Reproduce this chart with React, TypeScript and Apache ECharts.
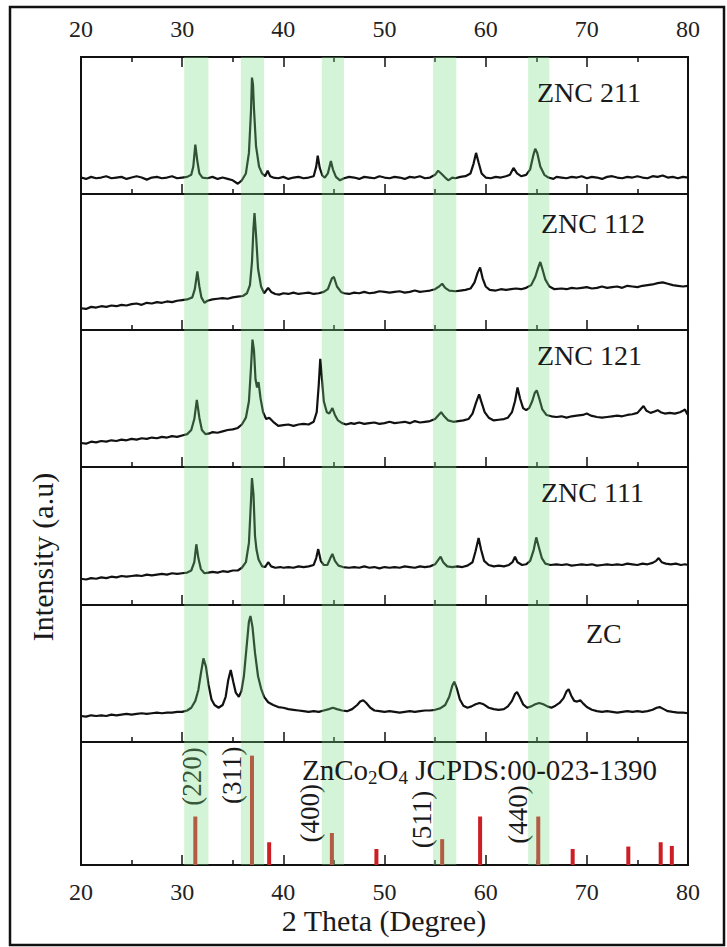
import React, { useEffect, useRef } from "react";
import * as echarts from "echarts";

const FONT = "'Liberation Serif', 'Times New Roman', serif";

const sampleNames = ["ZNC 211", "ZNC 112", "ZNC 121", "ZNC 111", "ZC"];

const znc211: number[][] = [[20,12],[20.5,11],[21,12.5],[21.5,11.5],[22,12],[22.5,13],[23,11.5],[23.5,12],[24,12.5],[24.5,11],[25,12],[25.5,13],[26,12],[26.5,10.5],[27,12],[27.5,12.5],[28,11.5],[28.5,12],[29,13],[29.5,11.5],[30,12],[30.5,12.5],[30.9,14],[31.1,20],[31.3,36],[31.5,24],[31.7,15],[32,12],[32.5,11.5],[33,12.5],[33.5,11],[34,12],[34.5,11],[35,10],[35.5,7.5],[35.9,10],[36.3,15],[36.6,30],[36.8,60],[36.9,85],[37.0,80],[37.1,62],[37.3,35],[37.6,20],[37.9,15],[38.2,13],[38.45,17],[38.7,13],[39,12],[39.5,11.5],[40,12.5],[40.5,11],[41,12],[41.5,12.5],[42,11.5],[42.5,12],[43,13],[43.25,20],[43.4,28],[43.6,19],[43.85,13.5],[44.1,12],[44.4,15],[44.7,24],[44.9,18],[45.2,12.5],[45.6,10],[46,11.5],[46.5,12.5],[47,12],[47.5,11],[48,12.5],[48.5,12],[49,11.5],[49.5,13],[50,12],[50.5,11.5],[51,12.5],[51.5,12],[52,11],[52.5,12.5],[53,12],[53.5,13],[54,11.5],[54.5,12],[55,14],[55.3,17],[55.6,15],[56,12],[56.3,10],[56.7,12],[57,11.5],[57.5,12.5],[58,13],[58.5,15],[58.8,22],[59.05,30],[59.3,23],[59.6,15],[60,12],[60.5,11.5],[61,12.5],[61.5,12],[62,13],[62.4,14],[62.75,19],[63.1,15],[63.5,13],[64,14],[64.4,18],[64.7,28],[64.9,33],[65.1,30],[65.4,20],[65.8,14],[66.2,12],[66.7,11],[67,12.5],[67.5,12],[68,11.5],[68.5,12.5],[69,12],[69.5,13],[70,11.5],[70.5,12.5],[71,12],[71.5,11],[72,12.5],[72.5,13],[73,12],[73.5,11.5],[74,12.5],[74.5,12],[75,13],[75.5,12],[76,11.5],[76.5,13],[77,12.5],[77.5,13.5],[78,12],[78.5,12.5],[79,11.5],[79.5,12.5],[80,12]];

const znc112: number[][] = [[20,16],[20.5,15.5],[21,17],[21.5,16.5],[22,17.5],[22.5,17],[23,18],[23.5,17.5],[24,18.5],[24.5,18],[25,19],[25.5,19.5],[26,18.5],[26.5,20],[27,19.5],[27.5,20.5],[28,20],[28.5,21],[29,20.5],[29.5,21.5],[30,22],[30.5,22.5],[31,24],[31.25,30],[31.5,43],[31.7,32],[31.9,24],[32.2,20],[32.5,21.5],[33,22.5],[33.5,23],[34,23.5],[34.5,23],[35,24],[35.5,24.5],[36,25],[36.4,27],[36.7,33],[36.9,50],[37.05,75],[37.15,86],[37.3,70],[37.5,45],[37.8,32],[38.1,27],[38.5,31],[38.8,28],[39.2,26.5],[39.6,26],[40,27],[40.5,26.5],[41,27.5],[41.5,26.5],[42,27],[42.5,27.5],[43,26.5],[43.5,27],[44,28],[44.4,30],[44.8,38],[45.0,39],[45.3,32],[45.7,28],[46,27],[46.5,26.5],[47,27.5],[47.5,27],[48,28],[48.5,27],[49,27.5],[49.5,28.5],[50,28],[50.5,27.5],[51,28],[51.5,28.5],[52,27.5],[52.5,28],[53,29],[53.5,28],[54,28.5],[54.5,29],[55,30],[55.4,32],[55.7,34],[56,31],[56.4,29],[57,28.5],[57.5,29],[58,29.5],[58.5,30.5],[58.9,35],[59.2,42],[59.45,46],[59.7,38],[60,32],[60.4,29.5],[61,29],[61.5,30],[62,29.5],[62.5,30],[63,30.5],[63.5,30],[64,31],[64.5,33],[64.9,39],[65.2,46],[65.4,50],[65.6,45],[65.9,37],[66.3,32],[66.8,30],[67.5,30.5],[68,30],[68.5,31],[69,30.5],[69.5,31],[70,31.5],[70.5,30.5],[71,31],[71.5,32],[72,31],[72.5,31.5],[73,32],[73.5,31],[74,32.5],[74.5,32],[75,31.5],[75.5,32.5],[76,33],[76.5,33.5],[77,34.5],[77.5,35],[78,34],[78.5,33],[79,32.5],[79.5,32],[80,32.5]];

const znc121: number[][] = [[20,17.5],[20.5,17],[21,18.5],[21.5,18],[22,19],[22.5,18.5],[23,19.5],[23.5,19],[24,20],[24.5,19.5],[25,20.5],[25.5,20],[26,21],[26.5,20.5],[27,21.5],[27.5,21],[28,22],[28.5,21.5],[29,22.5],[29.5,22],[30,23],[30.5,24],[30.9,27],[31.2,35],[31.45,49],[31.7,36],[31.95,27],[32.3,24],[32.7,24.5],[33,25.5],[33.5,25],[34,26],[34.5,27],[35,27.5],[35.5,28.5],[35.9,31],[36.3,36],[36.6,48],[36.8,72],[36.95,93],[37.1,85],[37.25,64],[37.4,58],[37.55,62],[37.75,50],[38,40],[38.3,35],[38.6,36],[39,33],[39.5,30],[40,30.5],[40.5,31],[41,30],[41.5,31],[42,31.5],[42.5,31],[43,33],[43.3,40],[43.5,60],[43.65,79],[43.8,66],[44,48],[44.3,40],[44.55,39],[44.85,43],[45.1,38],[45.4,34],[45.8,32],[46.2,31],[46.7,32],[47,31.5],[47.5,32.5],[48,31.5],[48.5,32],[49,32.5],[49.5,31.5],[50,32],[50.5,33],[51,32],[51.5,32.5],[52,33],[52.5,32],[53,33.5],[53.5,32.5],[54,33],[54.5,33.5],[55,35],[55.35,38],[55.6,40],[55.9,37],[56.3,34],[56.8,33],[57.3,33.5],[57.8,34],[58.3,35],[58.7,39],[59.05,47],[59.35,53],[59.6,47],[59.9,40],[60.3,36],[60.8,34],[61.3,34.5],[61.8,35],[62.2,36],[62.6,40],[62.9,48],[63.15,58],[63.4,50],[63.7,43],[64.0,41.5],[64.3,43],[64.6,48],[64.85,54],[65.05,56],[65.3,50],[65.6,42],[66,38],[66.5,37],[67,36.5],[67.5,37],[68,36],[68.5,37],[69,37.5],[69.6,38],[70,39],[70.4,37.5],[71,36.5],[71.5,36],[72,36.5],[72.5,37],[73,37.5],[73.5,37],[74,38],[74.5,38.5],[75,39.5],[75.3,42],[75.6,44.5],[75.9,41],[76.3,39.5],[76.7,40.5],[77,41.5],[77.3,40],[77.7,39],[78.2,39.5],[78.7,39],[79.2,40],[79.5,41],[79.7,42],[79.9,39],[80,38]];

const znc111: number[][] = [[20,19],[20.5,18.5],[21,19.5],[21.5,19],[22,20],[22.5,19.5],[23,20.5],[23.5,20],[24,21],[24.5,20.5],[25,21],[25.5,21.5],[26,21],[26.5,22],[27,21.5],[27.5,22],[28,22.5],[28.5,22],[29,23],[29.5,22.5],[30,23],[30.5,23.5],[30.9,25],[31.2,31],[31.4,44],[31.6,34],[31.85,26],[32.2,23],[32.6,23.5],[33,24],[33.5,23.5],[34,24.5],[34.5,24],[35,25],[35.5,25],[35.9,27],[36.3,31],[36.6,45],[36.8,75],[36.9,92],[37.05,80],[37.2,50],[37.35,40],[37.55,33],[37.9,28],[38.2,27.5],[38.5,31],[38.8,28],[39.2,27],[39.7,27.5],[40,27],[40.5,27.5],[41,27],[41.5,28],[42,27.5],[42.5,28],[43,29],[43.25,34],[43.45,40.5],[43.7,32],[44,29],[44.35,29],[44.65,34],[44.85,37],[45.1,32],[45.45,28.5],[45.9,27.5],[46.5,27],[47,27.5],[47.5,27],[48,28],[48.5,27],[49,27.5],[49.5,26.5],[50,27.5],[50.5,27],[51,27.5],[51.5,27],[52,28],[52.5,27.5],[53,27],[53.5,28],[54,27.5],[54.5,28],[55,29.5],[55.35,33],[55.55,35],[55.8,31],[56.2,28],[56.7,27.5],[57.2,28],[57.7,27.5],[58.2,28.5],[58.7,31],[59.0,39],[59.3,48.5],[59.55,40],[59.85,32],[60.3,29],[60.8,28],[61.3,28.5],[61.8,28],[62.3,29],[62.65,31],[62.9,35],[63.15,31],[63.6,29],[64,29.5],[64.4,32],[64.75,40],[65.0,49],[65.25,42],[65.55,34],[65.9,30],[66.4,29],[67,29.5],[67.5,29],[68,29.5],[68.5,28.5],[69,29],[69.5,29.5],[70,29],[70.5,29.5],[71,28.5],[71.5,29],[72,29.5],[72.5,29],[73,29.5],[73.5,29],[74,30],[74.5,29.5],[75,29],[75.5,30],[76,29.5],[76.5,30.5],[76.85,32],[77.1,34],[77.4,31],[77.8,30],[78.3,29.5],[78.8,30],[79.3,29],[79.7,29.5],[80,29]];

const zc: number[][] = [[20,19],[20.5,18.5],[21,19.5],[21.5,19],[22,19.5],[22.5,19],[23,20],[23.5,19.5],[24,20],[24.5,20.5],[25,20],[25.5,20.5],[26,21],[26.5,20.5],[27,21],[27.5,21.5],[28,21],[28.5,21.5],[29,21.5],[29.5,22],[30,22],[30.5,23],[30.9,25],[31.3,30],[31.6,38],[31.85,50],[32.1,61],[32.35,55],[32.6,42],[32.9,31],[33.2,27],[33.6,25],[34,27],[34.3,33],[34.55,45],[34.8,52.5],[35.05,44],[35.3,36],[35.6,33],[35.85,37],[36.1,48],[36.35,68],[36.6,88],[36.75,92],[36.95,84],[37.2,65],[37.5,48],[37.8,39],[38.1,33],[38.5,29],[39,27],[39.5,25.5],[40,25],[40.5,24],[41,23.5],[41.5,23],[42,22.5],[42.5,22],[43,22.5],[43.5,22],[44,23],[44.5,24],[44.9,25],[45.3,24],[45.8,23],[46.3,22.5],[46.8,24],[47.3,27],[47.6,29.5],[47.9,30.5],[48.2,28.5],[48.6,25],[49,23],[49.5,22.5],[50,22],[50.5,22.5],[51,22],[51.5,21.5],[52,22],[52.5,22.5],[53,22],[53.5,22.5],[54,23],[54.5,23],[55,23.5],[55.5,24.5],[56,27],[56.4,33],[56.7,41],[56.9,44],[57.15,39],[57.45,31],[57.8,26.5],[58.2,25],[58.6,26],[59,27.5],[59.4,28.5],[59.8,27.5],[60.3,25],[60.8,24],[61.3,23.5],[61.8,24],[62.2,26],[62.6,30],[62.9,35],[63.1,36.5],[63.35,33],[63.7,27.5],[64.1,25],[64.5,26],[64.9,27.5],[65.3,28.5],[65.7,27.5],[66.1,26],[66.5,25],[66.9,26.5],[67.3,28.5],[67.7,32],[68.0,37],[68.2,38.5],[68.45,34],[68.75,30],[69.05,29.5],[69.35,30.5],[69.65,28],[70,25.5],[70.5,23.5],[71,22.5],[71.5,22],[72,22.5],[72.5,22],[73,21.5],[73.5,22],[74,22.5],[74.5,22],[75,22.5],[75.5,22],[76,22.5],[76.5,23.5],[76.9,25],[77.2,25.5],[77.6,24],[78,22.5],[78.5,22],[79,21.5],[79.5,21.5],[80,21]];

const jcpdsSticks: number[][] = [[31.3,39.4],[36.9,88.9],[38.6,18.5],[44.8,26],[49.2,13],[55.7,21],[59.45,39.4],[65.2,39.4],[68.6,13],[74.1,15],[77.3,18.5],[78.4,15.5]];

const hklLabels = [
  { hkl: "(220)", x: 30.95, y: 72 },
  { hkl: "(311)", x: 34.95, y: 73 },
  { hkl: "(400)", x: 42.6, y: 42 },
  { hkl: "(511)", x: 53.7, y: 37 },
  { hkl: "(440)", x: 63.2, y: 41 },
];

const bandRanges: number[][] = [[30.2,32.6],[35.8,38.1],[43.8,46.0],[54.8,57.1],[64.2,66.3]];

const xTickMin = 20;
const xTickMax = 80;
const xTickStep = 10;

export default function App() {
  const ref = useRef<HTMLDivElement>(null);
  useEffect(() => {
    if (!ref.current) return;
    const chart = echarts.init(ref.current, null, { renderer: "svg" });
    const L = 81, W = 607;
    const edges = [57, 194, 330, 467, 605, 742, 865];
    const spectra = [znc211, znc112, znc121, znc111, zc];
    const grids: any[] = edges.slice(0, 6).map((t, i) => ({
      left: L, width: W, top: t, height: edges[i + 1] - t,
      show: true, borderColor: "#111", borderWidth: 2, backgroundColor: "transparent",
    }));
    grids.push({ left: L, width: W, top: 57, height: 865 - 57, show: false });

    const tickStyle = { color: "#111", width: 1.5 };
    const baseX = (gi: number, pos: string, showLabel: boolean, margin: number) => ({
      gridIndex: gi, type: "value", position: pos,
      min: xTickMin, max: xTickMax, interval: xTickStep,
      axisLine: { show: false },
      axisTick: { show: true, inside: true, length: 10, lineStyle: tickStyle },
      minorTick: { show: true, splitNumber: 2, length: 5, lineStyle: tickStyle },
      splitLine: { show: false },
      axisLabel: { show: showLabel, margin, fontSize: 24, fontFamily: FONT, color: "#222" },
    });
    const xAxes: any[] = [];
    for (let i = 0; i < 6; i++) xAxes.push(baseX(i, "bottom", i === 5, 15));
    xAxes.push(baseX(0, "top", true, 16));
    xAxes.push({ gridIndex: 6, type: "value", min: xTickMin, max: xTickMax, show: false });

    const yAxes: any[] = [];
    for (let i = 0; i < 6; i++) yAxes.push({ gridIndex: i, type: "value", min: 0, max: 100, show: false });
    yAxes.push({ gridIndex: 6, type: "value", min: 0, max: 1, show: false });

    const series: any[] = spectra.map((d, i) => ({
      type: "line", xAxisIndex: i, yAxisIndex: i, data: d,
      showSymbol: false, symbol: "none",
      lineStyle: { color: "#111", width: 2.2 }, z: 3,
    }));
    series.push({
      type: "bar", xAxisIndex: 5, yAxisIndex: 5, data: jcpdsSticks,
      barWidth: 4, itemStyle: { color: "#cc1f25" }, z: 3,
    });
    series.push({
      type: "custom", xAxisIndex: 7, yAxisIndex: 6, data: bandRanges, z: 10,
      renderItem: (params: any, api: any) => {
        const a = api.coord([api.value(0), 0]);
        const b = api.coord([api.value(1), 1]);
        return {
          type: "rect",
          shape: { x: a[0], y: b[1], width: b[0] - a[0], height: a[1] - b[1] },
          style: { fill: "rgba(120,220,130,0.32)" },
        };
      },
    });

    const labelPos = [[537, 92], [541, 223], [537, 355], [541, 492], [586, 633]];
    const graphics: any[] = sampleNames.map((n, i) => ({
      type: "text", x: labelPos[i][0], y: labelPos[i][1], z: 20,
      style: { text: n, fontSize: 28, fontFamily: FONT, fill: "#1a1a1a", textAlign: "left", textVerticalAlign: "middle" },
    }));
    graphics.push({
      type: "text", x: 302, y: 770, z: 20,
      style: {
        text: "{n|ZnCo}{s|2}{n|O}{s|4}{n| JCPDS:00-023-1390}",
        textAlign: "left", textVerticalAlign: "middle", fill: "#1a1a1a",
        rich: {
          n: { fontSize: 29, fontFamily: FONT, fill: "#1a1a1a", lineHeight: 30, verticalAlign: "top" },
          s: { fontSize: 19, fontFamily: FONT, fill: "#1a1a1a", lineHeight: 20, padding: [13, 0, 0, 0], verticalAlign: "top" },
        },
      },
    });
    graphics.push({
      type: "text", x: 384, y: 920, z: 20,
      style: { text: "2 Theta (Degree)", fontSize: 30, fontFamily: FONT, fill: "#1a1a1a", textAlign: "center", textVerticalAlign: "middle" },
    });
    graphics.push({
      type: "text", x: 42, y: 557, rotation: Math.PI / 2, z: 20,
      style: { text: "Intensity (a.u)", fontSize: 30, fontFamily: FONT, fill: "#1a1a1a", textAlign: "center", textVerticalAlign: "middle" },
    });
    graphics.push({
      type: "rect", z: 20,
      shape: { x: 10, y: 7, width: 714, height: 938 },
      style: { fill: "none", stroke: "#111", lineWidth: 2.5 },
    });

    chart.setOption({
      animation: false,
      backgroundColor: "#fff",
      grid: grids,
      xAxis: xAxes,
      yAxis: yAxes,
      series,
      graphic: graphics,
    });

    // hkl labels placed through the bottom panel's own scales
    const hklGraphics = hklLabels.map((h) => {
      const p = chart.convertToPixel({ xAxisIndex: 5, yAxisIndex: 5 } as any, [h.x, h.y]) as number[];
      return {
        type: "text", x: p[0], y: p[1], rotation: Math.PI / 2, z: 8,
        style: { text: h.hkl, fontSize: 27, fontFamily: FONT, fill: "#1a1a1a", textAlign: "center", textVerticalAlign: "middle" },
      };
    });
    chart.setOption({ graphic: [...graphics, ...hklGraphics] });

    return () => chart.dispose();
  }, []);
  return (
    <div
      ref={ref}
      style={{ position: "fixed", left: 0, top: 0, width: 727, height: 947, background: "#fff" }}
    />
  );
}
